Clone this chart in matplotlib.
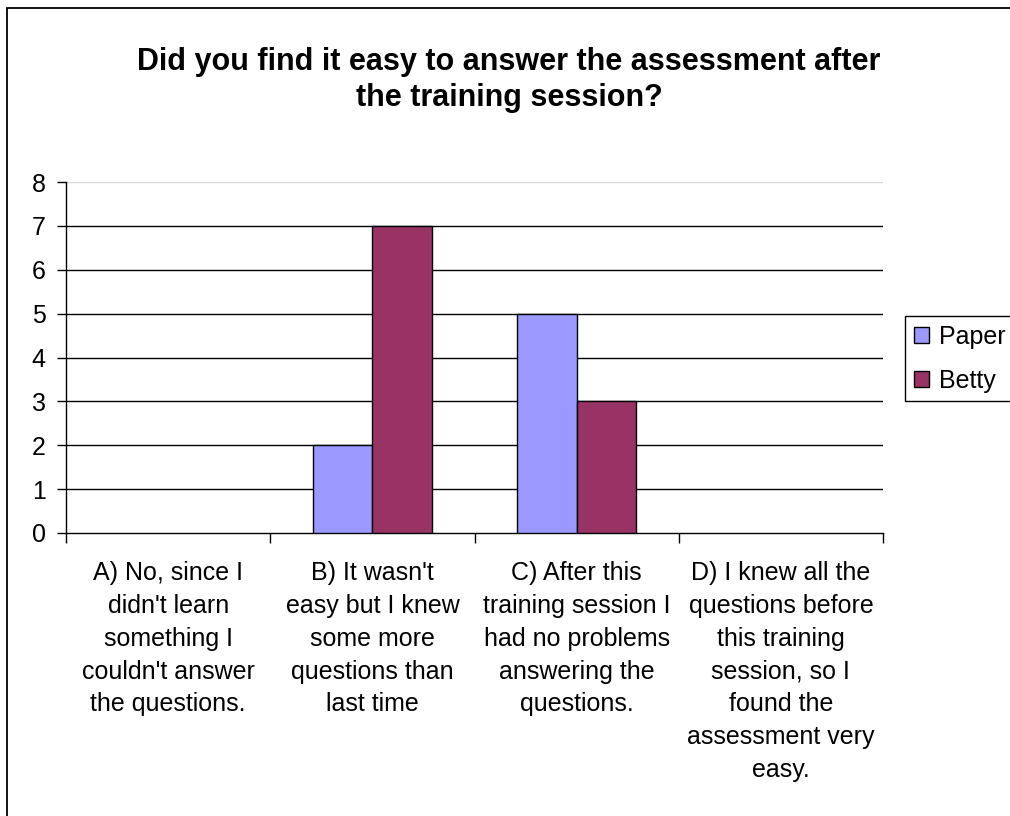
import matplotlib
matplotlib.use("Agg")
import matplotlib.pyplot as plt
from matplotlib.patches import Rectangle
import numpy as np

plt.rcParams['font.family'] = ['Liberation Sans', 'DejaVu Sans']

# --- data --- #
categories = [
    "A) No, since I\ndidn't learn\nsomething I\ncouldn't answer\nthe questions.",
    "B) It wasn't\neasy but I knew\nsome more\nquestions than\nlast time",
    "C) After this\ntraining session I\nhad no problems\nanswering the\nquestions.",
    "D) I knew all the\nquestions before\nthis training\nsession, so I\nfound the\nassessment very\neasy.",
]
paper = [0, 2, 5, 0]
betty = [0, 7, 3, 0]
series_names = ["Paper", "Betty"]
title = "Did you find it easy to answer the assessment after\nthe training session?"

W, H = 1010, 816
fig = plt.figure(figsize=(W / 100, H / 100), dpi=100)
fig.patch.set_facecolor("white")

# outer chart border (right/bottom edges fall outside the image)
fig.patches.append(Rectangle((7 / W, -0.1), 1.2, 1.1 - 8 / H, transform=fig.transFigure,
                             fill=False, edgecolor="black", linewidth=1.3))

left, right, top, bottom = 66, 883, 182, 533
ax = fig.add_axes([left / W, 1 - bottom / H, (right - left) / W, (bottom - top) / H])

x = np.arange(len(categories))
bw = 0.29
# no outline on empty bars, so the baseline stays thin
ax.bar(x - bw / 2, paper, bw, color="#9999FF", linewidth=1, label=series_names[0], zorder=3,
       edgecolor=["black" if v else "none" for v in paper])
ax.bar(x + bw / 2, betty, bw, color="#993366", linewidth=1, label=series_names[1], zorder=3,
       edgecolor=["black" if v else "none" for v in betty])

ax.set_xlim(-0.5, len(categories) - 0.5)
ax.set_ylim(0, 8)

# gridlines
for v in range(1, 8):
    ax.axhline(v, color="black", linewidth=1, zorder=1)
ax.axhline(8, color="#d8d8d8", linewidth=1, zorder=1)

for s in ["top", "right"]:
    ax.spines[s].set_visible(False)
ax.spines["left"].set_linewidth(1)
ax.spines["bottom"].set_linewidth(1)

ax.set_yticks(range(0, 9))
ax.tick_params(axis="y", length=6.5, width=1, labelsize=18, pad=8)

ax.set_xticks(x)
ax.set_xticklabels(categories, fontsize=18, linespacing=1.47)
ax.set_xticks(np.arange(-0.5, len(categories)), minor=True)
ax.tick_params(axis="x", which="major", length=0, pad=20)
ax.tick_params(axis="x", which="minor", length=7, width=1)

fig.text(509 / W, 1 - 80 / H, title, ha="center", va="center", fontsize=22,
         fontweight="bold", linespacing=1.3)

leg = fig.legend(loc="upper left", bbox_to_anchor=(905 / W, 1 - 316 / H), fontsize=18,
                 frameon=True, fancybox=False, edgecolor="black", framealpha=1,
                 handlelength=0.6, handleheight=0.6, handletextpad=0.4,
                 labelspacing=0.8, borderpad=0.35, borderaxespad=0)
leg.get_frame().set_linewidth(1)
for h in leg.legend_handles:
    h.set_edgecolor("black")

fig.savefig("out.png", dpi=100)
